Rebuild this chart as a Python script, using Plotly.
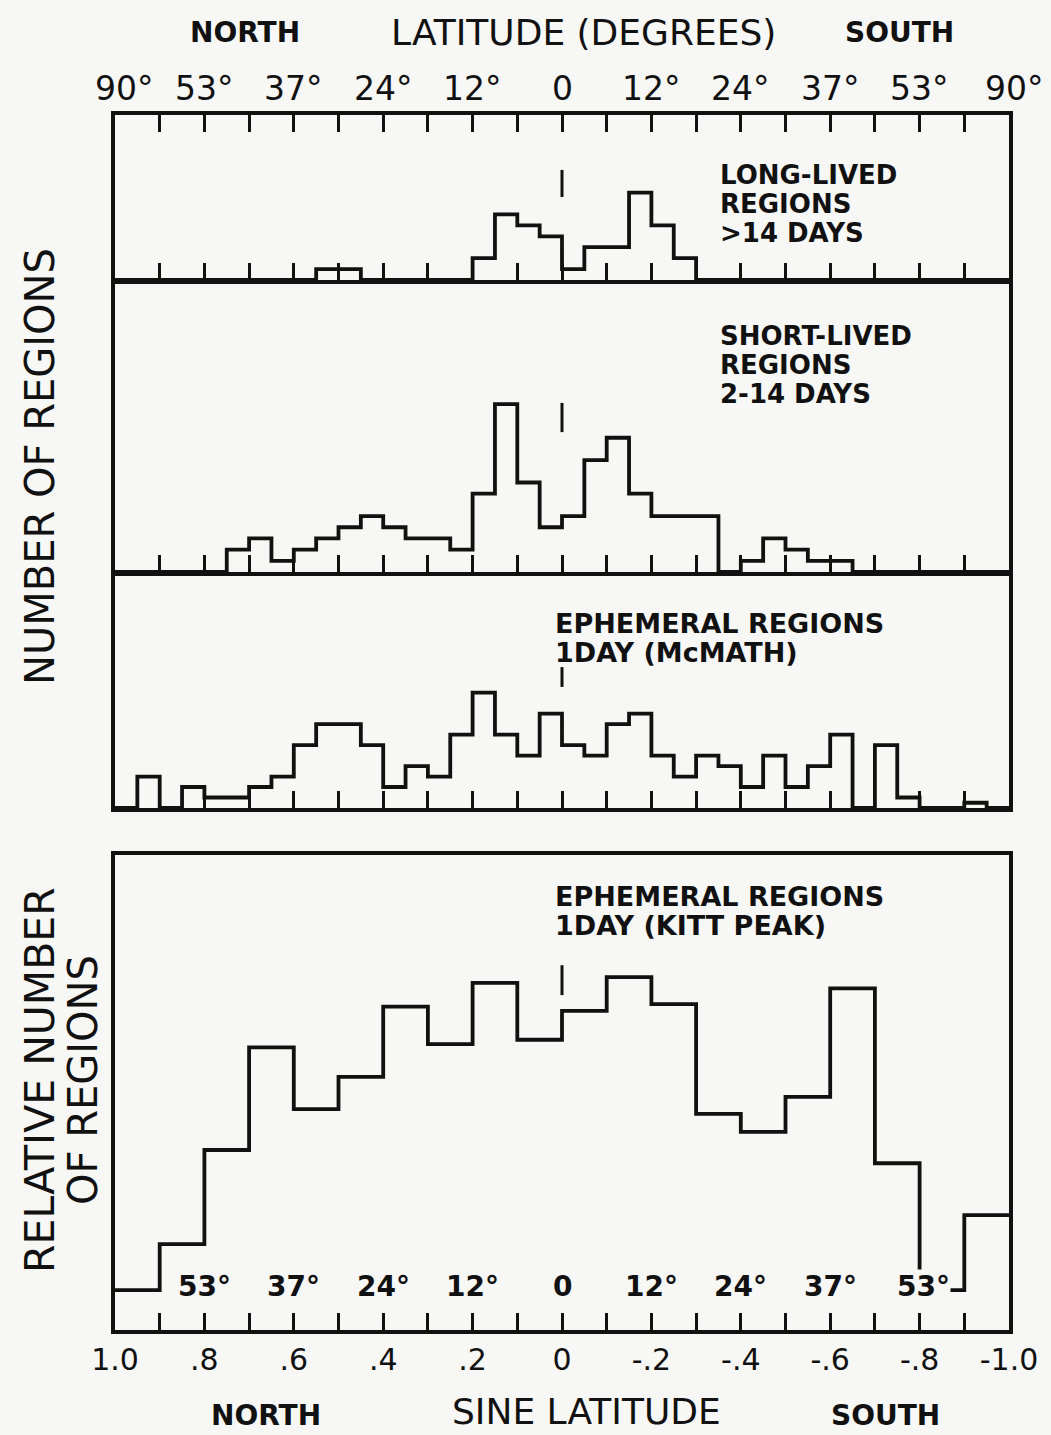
import plotly.graph_objects as go

# ---------------- data ----------------
# sine-latitude bin edges (1.0 = north pole, -1.0 = south pole)
FINE_EDGES = [round(1.0 - 0.05 * i, 2) for i in range(41)]     # 0.05 wide bins
COARSE_EDGES = [round(1.0 - 0.10 * i, 2) for i in range(21)]   # 0.10 wide bins

LONG_LIVED = [0, 0, 0, 0, 0, 0, 0, 0, 0, 1,
              1, 0, 0, 0, 0, 0, 2, 6, 5, 4,
              1, 3, 3, 8, 5, 2, 0, 0, 0, 0,
              0, 0, 0, 0, 0, 0, 0, 0, 0, 0]

SHORT_LIVED = [0, 0, 0, 0, 0, 2, 3, 1, 2, 3,
               4, 5, 4, 3, 3, 2, 7, 15, 8, 4,
               5, 10, 12, 7, 5, 5, 5, 0, 1, 3,
               2, 1, 1, 0, 0, 0, 0, 0, 0, 0]

EPHEMERAL_MCMATH = [0, 3, 0, 2, 1, 1, 2, 3, 6, 8,
                    8, 6, 2, 4, 3, 7, 11, 7, 5, 9,
                    6, 5, 8, 9, 5, 3, 5, 4, 2, 5,
                    2, 4, 7, 0, 6, 1, 0, 0, 0.5, 0]

EPHEMERAL_KITT = [8.4, 18.1, 37.9, 59.5, 46.5, 53.3, 68.1, 60.2, 73.1, 61.1,
                  67.2, 74.3, 68.6, 45.5, 41.7, 49.1, 71.9, 35.1, 8.4, 24.2]

# axis ticks / labels
TICK_VALS = [round(1.0 - 0.1 * i, 1) for i in range(21)]
TICK_TEXT = ["1.0", "", ".8", "", ".6", "", ".4", "", ".2", "", "0",
             "", "-.2", "", "-.4", "", "-.6", "", "-.8", "", "-1.0"]

DEG_POS = [1.0, 0.8, 0.6, 0.4, 0.2, 0.0, -0.2, -0.4, -0.6, -0.8, -1.0]
DEG_TOP = ["90°", "53°", "37°", "24°", "12°", "0", "12°", "24°", "37°", "53°", "90°"]
DEG_INNER_POS = [0.8, 0.6, 0.4, 0.2, 0.0, -0.2, -0.4, -0.6, -0.8]
DEG_INNER = ["53°", "37°", "24°", "12°", "0", "12°", "24°", "37°", "53°"]

EQUATOR = 0.0

# y-axis ranges (in the units of each panel)
Y_MAX = [15.1, 26.1, 22.5, 100.0]

# ---------------- layout geometry (page pixels) ----------------
W, H = 1051, 1435
L, R_EDGE = 115, 1009
T, B_EDGE = 115, 1330
PW, PH = R_EDGE - L, B_EDGE - T


def pxx(p):
    return (p - L) / PW


def pxy(p):
    return (B_EDGE - p) / PH


# panel pixel extents (top, bottom)
PANELS = [(115, 280), (280, 572), (572, 808), (855, 1330)]

BG = "#f7f7f5"
INK = "#111111"
FONT = "DejaVu Sans"
LW = 3.8

fig = go.Figure()

series = [LONG_LIVED, SHORT_LIVED, EPHEMERAL_MCMATH]
for k, vals in enumerate(series):
    fig.add_trace(go.Scatter(
        x=FINE_EDGES, y=list(vals) + [vals[-1]],
        mode="lines", line=dict(shape="hv", color=INK, width=LW),
        xaxis="x" if k == 0 else f"x{k+1}", yaxis="y" if k == 0 else f"y{k+1}",
        showlegend=False, hoverinfo="skip"))

fig.add_trace(go.Scatter(
    x=COARSE_EDGES, y=list(EPHEMERAL_KITT) + [EPHEMERAL_KITT[-1]],
    mode="lines", line=dict(shape="hv", color=INK, width=LW),
    xaxis="x4", yaxis="y4", showlegend=False, hoverinfo="skip"))

layout = dict(
    width=W, height=H,
    margin=dict(l=L, r=W - R_EDGE, t=T, b=H - B_EDGE, pad=0),
    paper_bgcolor=BG, plot_bgcolor=BG,
    showlegend=False,
)

mirrors = ["ticks", False, False, True]
for k, (top, bot) in enumerate(PANELS):
    xname = "xaxis" if k == 0 else f"xaxis{k+1}"
    yname = "yaxis" if k == 0 else f"yaxis{k+1}"
    yid = "y" if k == 0 else f"y{k+1}"
    xa = dict(
        range=[1.0, -1.0], anchor=yid,
        showgrid=False, zeroline=False,
        showline=True, linewidth=LW, linecolor=INK,
        mirror=mirrors[k],
        ticks="inside", ticklen=17, tickwidth=3, tickcolor=INK,
        tickmode="array", tickvals=TICK_VALS,
        ticktext=TICK_TEXT if k == 3 else [""] * len(TICK_VALS),
        showticklabels=(k == 3),
        tickfont=dict(family=FONT, size=30, color=INK),
    )
    if k > 0:
        xa["matches"] = "x"
    layout[xname] = xa
    layout[yname] = dict(
        domain=[pxy(bot), pxy(top)], anchor="x" if k == 0 else f"x{k+1}",
        range=[0, Y_MAX[k]], showgrid=False, zeroline=False,
        showline=True, linewidth=LW, linecolor=INK, mirror=True,
        ticks="", showticklabels=False,
    )

fig.update_layout(**layout)

# equator marks
eq_marks = [(0.503, 0.667), (0.479, 0.579), (0.513, 0.597), (0.705, 0.768)]
for k, (y0, y1) in enumerate(eq_marks):
    xr = "x" if k == 0 else f"x{k+1}"
    yr = ("y" if k == 0 else f"y{k+1}") + " domain"
    fig.add_shape(type="line", xref=xr, yref=yr, x0=EQUATOR, x1=EQUATOR,
                  y0=y0, y1=y1, line=dict(color=INK, width=3))

ann = []


def text(x, y, s, size, bold=False, xanchor="center", yanchor="middle",
         angle=0, xref="paper", xshift=0, bgcolor=None):
    a = dict(
        x=x, y=y, xref=xref, yref="paper", text=f"<b>{s}</b>" if bold else s,
        showarrow=False, xanchor=xanchor, yanchor=yanchor, textangle=angle,
        xshift=xshift,
        font=dict(family=FONT, size=size, color=INK))
    if bgcolor:
        a["bgcolor"] = bgcolor
        a["borderpad"] = 0
    ann.append(a)


# top titles
text(pxx(245), pxy(33), "NORTH", 28, bold=True)
text(pxx(583), pxy(33), "LATITUDE (DEGREES)", 36)
text(pxx(899), pxy(33), "SOUTH", 28, bold=True)

# top degree labels (placed on the data x scale)
for i, (pos, lab) in enumerate(zip(DEG_POS, DEG_TOP)):
    shift = 9 if i == 0 else (5 if i == len(DEG_POS) - 1 else 0)
    text(pos, pxy(89), lab, 33, xref="x", xshift=shift)

# inner degree labels in bottom panel (they interrupt the outline, as drawn)
for i, (pos, lab) in enumerate(zip(DEG_INNER_POS, DEG_INNER)):
    shift = 4 if i == len(DEG_INNER_POS) - 1 else 0
    text(pos, pxy(1286), lab, 28, bold=True, xref="x4", xshift=shift, bgcolor=BG)

# panel descriptions
for s, yy in [("LONG-LIVED", 175), ("REGIONS", 204), ("&gt;14 DAYS", 233)]:
    text(pxx(718), pxy(yy), s, 26, bold=True, xanchor="left")
for s, yy in [("SHORT-LIVED", 336), ("REGIONS", 365), ("2-14 DAYS", 394)]:
    text(pxx(718), pxy(yy), s, 26, bold=True, xanchor="left")
for s, yy in [("EPHEMERAL REGIONS", 623), ("1DAY (McMATH)", 652)]:
    text(pxx(553), pxy(yy), s, 27, bold=True, xanchor="left")
for s, yy in [("EPHEMERAL REGIONS", 896), ("1DAY (KITT PEAK)", 925)]:
    text(pxx(553), pxy(yy), s, 27, bold=True, xanchor="left")

# y titles
text(pxx(40), pxy(467), "NUMBER OF REGIONS", 40, angle=-90)
text(pxx(40), pxy(1080), "RELATIVE NUMBER", 41, angle=-90)
text(pxx(83), pxy(1080), "OF REGIONS", 40, angle=-90)

# bottom titles (anchored to the bottom edge so they stay inside the page)
text(pxx(266), pxy(1434), "NORTH", 28, bold=True, yanchor="bottom")
text(pxx(586), pxy(1434), "SINE LATITUDE", 36, yanchor="bottom")
text(pxx(885), pxy(1434), "SOUTH", 28, bold=True, yanchor="bottom")

fig.update_layout(annotations=ann)

fig.write_html(
    "out.html",
    config={"displayModeBar": False},
    post_script="document.body.style.margin='0px';document.body.style.overflow='hidden';",
)
